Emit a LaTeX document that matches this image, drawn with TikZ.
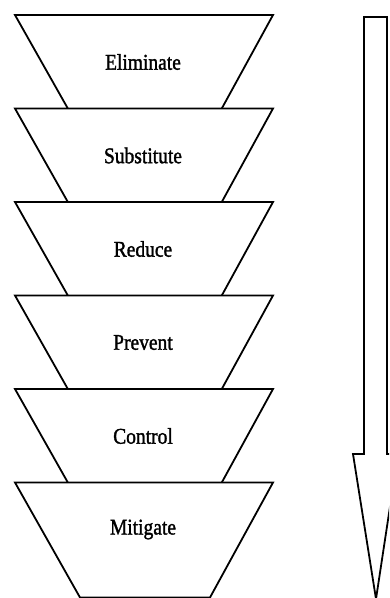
\documentclass[tikz,border=0pt]{standalone}
\usepackage{graphicx}
\usepackage{fontspec}
\setmainfont{Liberation Serif}[FakeBold=1.6]
\newcommand{\tiertext}[1]{\scalebox{1}[1.15]{#1}}
\begin{document}
\begin{tikzpicture}[x=1pt,y=-1pt,
  tier/.style={draw=black,fill=white,line width=1.8pt,line join=miter},
  tierlabel/.style={font=\fontsize{19.5}{22}\selectfont,inner sep=0pt},
  bigarrow/.style={draw=black,fill=white,line width=1.8pt,line join=miter}]
\useasboundingbox (0,0) rectangle (389,598);
\clip (0,0) rectangle (389,598);
\foreach \i/\txt in {0/Eliminate,1/Substitute,2/Reduce,3/Prevent,4/Control,5/Mitigate}{
  \pgfmathsetmacro{\t}{15+93.5*\i}
  \draw[tier] (15,\t) -- (273,\t) -- (210,\t+115) -- (80,\t+115) -- cycle;
  \node[tierlabel] (t\i) at (143,\t+47) {\tiertext{\txt}};
}
\draw[bigarrow] (364,17) -- (387,17) -- (387,454) -- (398,454) -- (376,599)
  -- (353,454) -- (364,454) -- cycle;
\end{tikzpicture}
\end{document}
